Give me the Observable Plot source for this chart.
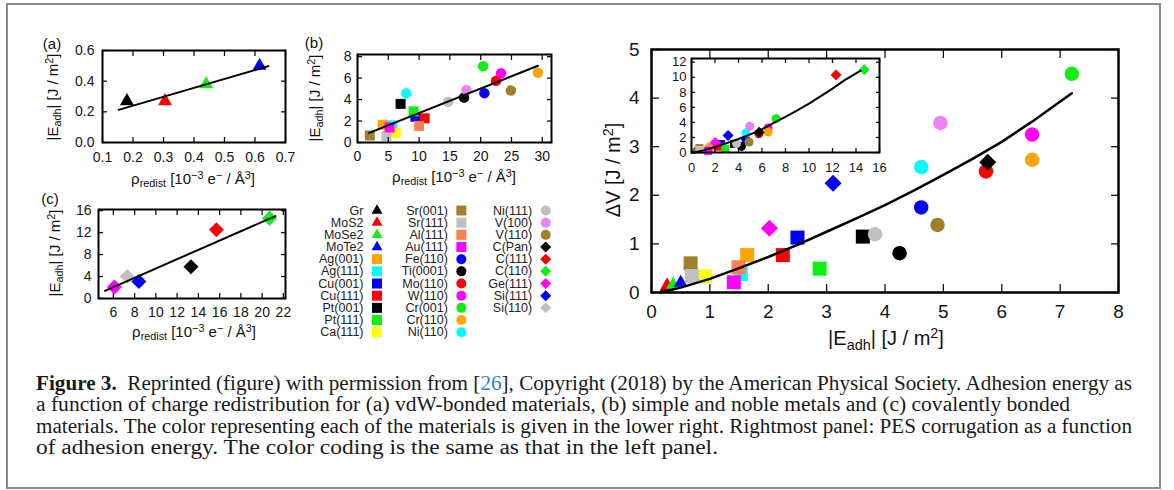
<!DOCTYPE html>
<html><head><meta charset="utf-8">
<script src="https://cdn.jsdelivr.net/npm/d3@7"></script>
<script src="https://cdn.jsdelivr.net/npm/@observablehq/plot@0.6"></script>
<style>
html,body{margin:0;padding:0;background:#fff;}
#root{position:relative;width:1174px;height:490px;overflow:hidden;background:#fff;font-family:"Liberation Sans",Arial,sans-serif;color:#111;}
#border{position:absolute;left:6px;top:3px;width:1155px;height:486px;box-sizing:border-box;border:2px solid #8a8a8a;}
.abs{position:absolute;}
.lab{position:absolute;white-space:nowrap;line-height:1;transform:translate(-50%,-50%);}
.rot{transform:translate(-50%,-50%) rotate(-90deg);}
sub,sup{font-size:0.72em;line-height:0;position:relative;vertical-align:baseline;}
sub{top:0.32em;} sup{top:-0.5em;}
.cap{position:absolute;left:36px;white-space:nowrap;font-family:"Liberation Serif","Times New Roman",serif;font-size:20px;line-height:21px;color:#1a1a1a;transform-origin:0 50%;}
</style></head>
<body><div id="root">
<div id="border"></div>
<div class="abs" id="pa" style="left:40px;top:30px"></div>
<div class="abs" id="pb" style="left:300px;top:30px"></div>
<div class="abs" id="pc" style="left:40px;top:185px"></div>
<div class="abs" id="pl" style="left:300px;top:195px"></div>
<div class="abs" id="pm" style="left:600px;top:25px"></div>
<div class="abs" id="pi" style="left:650px;top:40px"></div>

<div class="lab" style="left:52px;top:43px;font-size:15px">(a)</div>
<div class="lab" style="left:314px;top:42px;font-size:15px">(b)</div>
<div class="lab" style="left:50px;top:198px;font-size:15px">(c)</div>

<div class="lab" style="left:193px;top:178px;font-size:15px">ρ<sub>redist</sub> [10<sup>−3</sup> e<sup>−</sup> / Å<sup>3</sup>]</div>
<div class="lab rot" style="left:52px;top:97px;font-size:15px">|E<sub>adh</sub>| [J / m<sup>2</sup>]</div>
<div class="lab" style="left:454px;top:176px;font-size:15px">ρ<sub>redist</sub> [10<sup>−3</sup> e<sup>−</sup> / Å<sup>3</sup>]</div>
<div class="lab rot" style="left:314px;top:98px;font-size:15px">|E<sub>adh</sub>| [J / m<sup>2</sup>]</div>
<div class="lab" style="left:194px;top:331px;font-size:15px">ρ<sub>redist</sub> [10<sup>−3</sup> e<sup>−</sup> / Å<sup>3</sup>]</div>
<div class="lab rot" style="left:54px;top:253px;font-size:15px">|E<sub>adh</sub>| [J / m<sup>2</sup>]</div>
<div class="lab" style="left:886px;top:338px;font-size:20px">|E<sub>adh</sub>| [J / m<sup>2</sup>]</div>
<div class="lab rot" style="left:613px;top:170px;font-size:20px">ΔV [J / m<sup>2</sup>]</div>

<div class="cap" data-w="1096" style="top:373px"><b>Figure 3.</b>&nbsp;&nbsp;Reprinted (figure) with permission from [<span style="color:#2f86c8">26</span>], Copyright (2018) by the American Physical Society. Adhesion energy as</div>
<div class="cap" data-w="1034" style="top:394.3px">a function of charge redistribution for (a) vdW-bonded materials, (b) simple and noble metals and (c) covalently bonded</div>
<div class="cap" data-w="1096" style="top:415.6px">materials. The color representing each of the materials is given in the lower right. Rightmost panel: PES corrugation as a function</div>
<div class="cap" data-w="682" style="top:437px">of adhesion energy. The color coding is the same as that in the left panel.</div>
</div>
<script>
// ---------------- data ----------------
const names = ["Gr","MoS2","MoSe2","MoTe2","Ag(001)","Ag(111)","Cu(001)","Cu(111)","Pt(001)","Pt(111)","Ca(111)",
  "Sr(001)","Sr(111)","Al(111)","Au(111)","Fe(110)","Ti(0001)","Mo(110)","W(110)","Cr(001)","Cr(110)","Ni(110)",
  "Ni(111)","V(100)","V(110)","C(Pan)","C(111)","C(110)","Ge(111)","Si(111)","Si(110)"];
const groups = ["a","a","a","a","b","b","b","b","b","b","b",
  "b","b","b","b","b","b","b","b","b","b","b",
  "b","b","b","c","c","c","c","c","c"];
const symbols = ["triangle","triangle","triangle","triangle","square","square","square","square","square","square","square",
  "square","square","square","square","circle","circle","circle","circle","circle","circle","circle",
  "circle","circle","circle","diamond","diamond","diamond","diamond","diamond","diamond"];
const colors = ["#000000","#ff0000","#11ee11","#0000ff","#ffa500","#00ffff","#0000ff","#ff0000","#000000","#11ee11","#ffff00",
  "#a0802a","#c0c0c0","#ff7f50","#ff00ff","#0000ff","#000000","#ff0000","#ff00ff","#11ee11","#ffa500","#00ffff",
  "#c0c0c0","#ee82ee","#a0802a","#000000","#ff0000","#11ee11","#ff00ff","#0000ff","#c0c0c0"];
// charge redistribution rho_redist (panels a, b, c)
const rho = [0.18,0.305,0.44,0.615, 4.1,5.6,9.4,10.9,7.0,9.1,6.2,
  2.0,4.7,10.0,5.2,20.6,17.3,22.5,23.3,20.4,29.3,7.9,
  14.7,17.7,24.9,13.3,15.7,20.7,6.1,8.4,7.3];
// adhesion energy |E_adh| (panels a, b, c)
const eadh = [0.27,0.27,0.38,0.50, 1.65,1.6,2.4,2.25,3.6,2.9,0.9,
  0.65,0.6,1.55,1.4,4.6,4.2,5.75,6.45,7.1,6.5,4.6,
  3.8,4.9,4.85,5.8,12.5,14.6,2.1,3.1,4.0];
// right panel: |E_adh| (x) and PES corrugation ΔV (y)
const eadhDV = [0.26,0.27,0.37,0.5, 1.64,1.53,2.5,2.25,3.62,2.88,0.92,
  0.67,0.69,1.49,1.41,4.62,4.25,5.73,6.52,7.2,6.52,4.62,
  3.83,4.95,4.9,5.76,12.3,14.7,2.02,3.11,null];
const deltaV = [0.12,0.14,0.16,0.2, 0.77,0.38,1.13,0.77,1.15,0.49,0.33,
  0.6,0.34,0.52,0.21,1.75,0.81,2.49,3.25,4.5,2.73,2.58,
  1.2,3.49,1.39,2.68,10.3,11.0,1.32,2.25,null];
// fitted curves
const fitAX = [0.153,0.644], fitAY = [0.213,0.498];
const fitBX = [1.9,29.3], fitBY = [0.9,7.15];
const fitCX = [5.2,21.25], fitCY = [1.4,15.0];
const fitDVX = [0.15,0.5,1,1.5,2,2.5,3,3.5,4,4.5,5,5.5,6,6.5,7.2,8,9,10,11,12,13,14.4];
const fitDVY = [0,0.1,0.28,0.5,0.73,0.98,1.25,1.52,1.8,2.1,2.42,2.75,3.1,3.5,4.1,4.75,5.6,6.5,7.5,8.5,9.6,10.9];
// tick values
const ticksAX = [0.1,0.2,0.3,0.4,0.5,0.6,0.7], ticksAY = [0,0.2,0.4,0.6];
const ticksBX = [0,5,10,15,20,25,30], ticksBY = [0,2,4,6,8];
const ticksCX = [6,8,10,12,14,16,18,20,22], ticksCY = [0,4,8,12,16];
const ticksMX = [0,1,2,3,4,5,6,7,8], ticksMY = [0,1,2,3,4,5];
const ticksIX = [0,2,4,6,8,10,12,14,16], ticksIY = [0,2,4,6,8,10,12];

// ---------------- helpers ----------------
const rows = names.map((n,i)=>({name:n, group:groups[i], symbol:symbols[i], color:colors[i],
  rho:rho[i], eadh:eadh[i], ex:eadhDV[i], dv:deltaV[i], col:Math.floor(i/11), row:i%11}));
const symName = {triangle:"triangle", square:"square", circle:"circle", diamond:"diamond2"};
const rFor = (s,w) => s==="triangle" ? w/2.694 : s==="square" ? w/1.772 : s==="circle" ? w/2 : w/2.219;
function dotMarks(data, x, y, widths, extra={}) {
  return ["triangle","square","circle","diamond"].filter(s=>widths[s]).map(s =>
    Plot.dot(data.filter(d=>d.symbol===s), {x, y, symbol:symName[s], r:rFor(s,widths[s]), fill:"color", stroke:"none", ...extra}));
}
function fitLine(xs, ys, w, filt=()=>true) {
  const pts = xs.map((x,i)=>({x, y:ys[i]})).filter(filt);
  return Plot.line(pts, {x:"x", y:"y", stroke:"black", strokeWidth:w});
}
function axes(xt, yt, tk, padX, padY, fs) {
  return [
    Plot.axisX(xt, {anchor:"bottom", tickSize:-tk, tickPadding:padX+tk, label:null, strokeWidth:1.3, fontSize:fs, fill:"#151515"}),
    Plot.axisX(xt, {anchor:"top", tickSize:-tk, label:null, fill:"none", strokeWidth:1.3}),
    Plot.axisY(yt, {anchor:"left", tickSize:-tk, tickPadding:padY+tk, label:null, strokeWidth:1.3, fontSize:fs, fill:"#151515"}),
    Plot.axisY(yt, {anchor:"right", tickSize:-tk, label:null, fill:"none", strokeWidth:1.3})
  ];
}
const baseStyle = fs => ({background:"transparent", fontFamily:'"Liberation Sans", Arial, sans-serif', fontSize:fs+"px", color:"#111", overflow:"visible"});

// ---------------- panel (a) ----------------
document.getElementById("pa").append(Plot.plot({
  width:260, height:152, marginLeft:62, marginRight:15, marginTop:20, marginBottom:40,
  x:{domain:[0.1,0.7]}, y:{domain:[0,0.6]}, style:baseStyle(14),
  marks:[...dotMarks(rows.filter(d=>d.group==="a"), "rho", "eadh", {triangle:14}),
    fitLine(fitAX, fitAY, 2), ...axes(ticksAX, ticksAY, 5, 10, 8, 14), Plot.frame({stroke:"black", strokeWidth:2})]
}));
// ---------------- panel (b) ----------------
document.getElementById("pb").append(Plot.plot({
  width:266, height:152, marginLeft:57, marginRight:15, marginTop:24, marginBottom:40,
  x:{domain:[0,31.5]}, y:{domain:[0,8.2]}, style:baseStyle(14),
  marks:[...dotMarks(rows.filter(d=>d.group==="b"), "rho", "eadh", {square:10, circle:10.5}),
    fitLine(fitBX, fitBY, 2), ...axes(ticksBX, ticksBY, 5, 9, 6, 14), Plot.frame({stroke:"black", strokeWidth:2})]
}));
// ---------------- panel (c) ----------------
document.getElementById("pc").append(Plot.plot({
  width:260, height:153, marginLeft:58, marginRight:15, marginTop:24, marginBottom:40,
  x:{domain:[4.6,22.2]}, y:{domain:[0,16.2]}, style:baseStyle(14),
  marks:[...dotMarks(rows.filter(d=>d.group==="c"), "rho", "eadh", {diamond:15}),
    fitLine(fitCX, fitCY, 2), ...axes(ticksCX, ticksCY, 5, 9, 7, 14), Plot.frame({stroke:"black", strokeWidth:2})]
}));
// ---------------- legend ----------------
document.getElementById("pl").append(Plot.plot({
  width:270, height:150, margin:0,
  x:{domain:[0,2], range:[63,231.7], axis:null}, y:{domain:[0,10], range:[15,136.7], axis:null},
  style:baseStyle(12.5),
  marks:[Plot.text(rows, {x:"col", y:"row", text:"name", textAnchor:"end", fill:"#222", fontSize:12.5}),
    ...dotMarks(rows, "col", "row", {triangle:11, square:10, circle:10, diamond:11}, {dx:13.5})]
}));
// ---------------- right panel ----------------
const dvRows = rows.filter(d=>d.ex!=null);
document.getElementById("pm").append(Plot.plot({
  width:538, height:327, marginLeft:51, marginRight:20, marginTop:24, marginBottom:60,
  x:{domain:[0,8]}, y:{domain:[0,5]}, style:baseStyle(19),
  marks:[...dotMarks(dvRows.filter(d=>d.ex<=8), "ex", "dv", {triangle:14, square:14, circle:14.5, diamond:17}),
    fitLine(fitDVX, fitDVY, 2.5, p=>p.x<=7.2), ...axes(ticksMX, ticksMY, 8, 12, 12, 19), Plot.frame({stroke:"black", strokeWidth:2.5})]
}));
// ---------------- inset ----------------
document.getElementById("pi").append(Plot.plot({
  width:239, height:142, marginLeft:41, marginRight:10, marginTop:18, marginBottom:30,
  x:{domain:[0,16]}, y:{domain:[0,12.5]}, style:baseStyle(13),
  marks:[Plot.frame({fill:"white", stroke:"none"}),
    ...dotMarks(dvRows, "ex", "dv", {triangle:8, square:8, circle:9, diamond:11}),
    fitLine(fitDVX, fitDVY, 2), ...axes(ticksIX, ticksIY, 4, 10, 5, 13), Plot.frame({stroke:"black", strokeWidth:2})]
}));
// ---------------- caption fitting ----------------
document.querySelectorAll(".cap").forEach(el => {
  const w = el.getBoundingClientRect().width;
  const target = +el.dataset.w;
  if (w > 0) el.style.transform = `scaleX(${target / w})`;
});
</script>
</body></html>
